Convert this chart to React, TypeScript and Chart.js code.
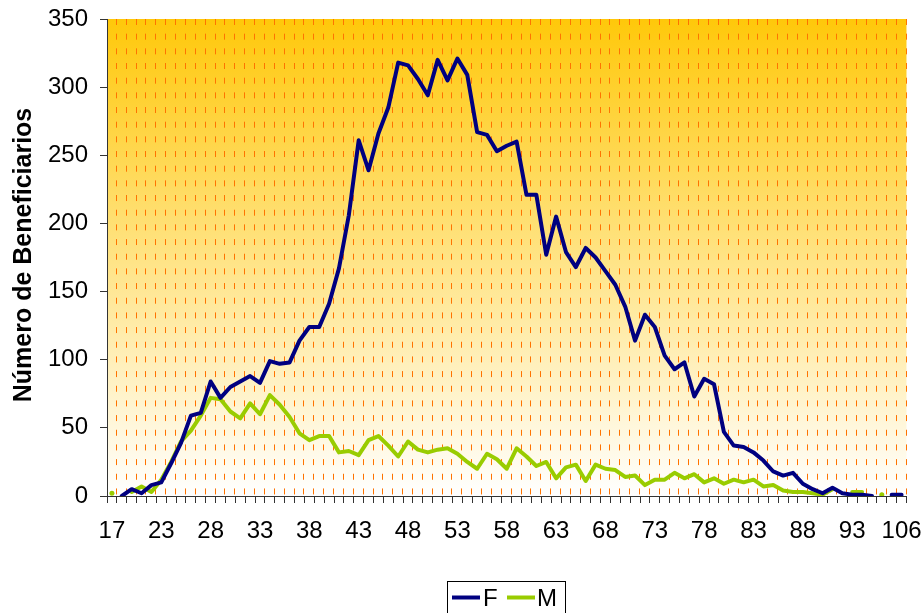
import React, { useEffect, useRef } from 'react';
import { Chart, registerables } from 'chart.js';

Chart.register(...registerables);

const ages: string[] = [
  '17', '19', '20', '21', '22',
  '23', '24', '25', '26', '27', '28', '29', '30', '31', '32',
  '33', '34', '35', '36', '37', '38', '39', '40', '41', '42',
  '43', '44', '45', '46', '47', '48', '49', '50', '51', '52',
  '53', '54', '55', '56', '57', '58', '59', '60', '61', '62',
  '63', '64', '65', '66', '67', '68', '69', '70', '71', '72',
  '73', '74', '75', '76', '77', '78', '79', '80', '81', '82',
  '83', '84', '85', '86', '87', '88', '89', '90', '91', '92',
  '93', '94', '95', '96', '98', '106',
];

const femenino: (number | null)[] = [
  null, 0, 5, 2, 8,
  10, 24, 39, 59, 61, 84, 72, 80, 84, 88,
  83, 99, 97, 98, 114, 124, 124, 141, 167, 206,
  261, 239, 266, 285, 318, 316, 306, 294, 320, 305,
  321, 309, 267, 265, 253, 257, 260, 221, 221, 177,
  205, 179, 168, 182, 175, 165, 155, 139, 114, 133,
  124, 103, 93, 98, 73, 86, 82, 47, 37, 36,
  32, 26, 18, 15, 17, 9, 5, 2, 6, 2,
  1, 1, 0, null, 1, 1,
];

const masculino: (number | null)[] = [
  2, null, 3, 7, 3,
  12, 25, 40, 48, 59, 72, 71, 62, 57, 68,
  60, 74, 67, 58, 46, 41, 44, 44, 32, 33,
  30, 41, 44, 37, 29, 40, 34, 32, 34, 35,
  31, 25, 20, 31, 27, 20, 35, 29, 22, 25,
  13, 21, 23, 11, 23, 20, 19, 14, 15, 8,
  12, 12, 17, 13, 16, 10, 13, 9, 12, 10,
  12, 7, 8, 4, 3, 3, 2, 1, 5, null,
  3, 3, null, 1, null, null,
];

const seriesNames = ['F', 'M'];
const yAxisTitle = 'Número de Beneficiarios';
const yMin = 0;
const yMax = 350;
const yStep = 50;
const labelEvery = 5;

const FONT = "'Liberation Sans', Arial, Helvetica, sans-serif";
const F_COLOR = '#000080';
const M_COLOR = '#99CC00';
const AXIS_COLOR = '#333333';

const isolatedRadius = (arr: (number | null)[]) => (ctx: any) => {
  const i = ctx.dataIndex;
  const prev = i > 0 ? arr[i - 1] : null;
  const next = i < arr.length - 1 ? arr[i + 1] : null;
  return arr[i] != null && prev == null && next == null ? 2.5 : 0;
};

const decorPlugin = {
  id: 'decor',
  beforeDraw(chart: any) {
    const { ctx, chartArea: a } = chart;
    const g = ctx.createLinearGradient(0, a.top, 0, a.bottom);
    g.addColorStop(0, '#FFC80A');
    g.addColorStop(1, '#FFFFFF');
    ctx.save();
    ctx.fillStyle = g;
    ctx.fillRect(a.left, a.top, a.right - a.left, a.bottom - a.top);
    const n = ages.length;
    const w = (a.right - a.left) / n;
    const period = 14.67;
    const dash = 6;
    ctx.strokeStyle = '#FF7300';
    ctx.lineWidth = 1;
    ctx.beginPath();
    for (let k = 1; k <= n; k++) {
      const x = Math.round(a.left + k * w) - 0.5;
      for (let y = a.top; y + 1 < a.bottom; y += period) {
        ctx.moveTo(x, y);
        ctx.lineTo(x, Math.min(y + dash, a.bottom - 1));
      }
    }
    ctx.stroke();
    ctx.restore();
  },
  afterDraw(chart: any) {
    const { ctx } = chart;
    ctx.save();
    ctx.fillStyle = '#000';
    ctx.font = `bold 25px ${FONT}`;
    ctx.textAlign = 'center';
    ctx.textBaseline = 'middle';
    ctx.translate(24, 255);
    ctx.rotate(-Math.PI / 2);
    ctx.fillText(yAxisTitle, 0, 0);
    ctx.restore();

    ctx.save();
    ctx.strokeStyle = '#000';
    ctx.lineWidth = 1;
    ctx.strokeRect(447.5, 581.5, 118, 40);
    ctx.lineWidth = 4;
    ctx.lineCap = 'butt';
    ctx.strokeStyle = F_COLOR;
    ctx.beginPath();
    ctx.moveTo(452, 597.5);
    ctx.lineTo(480, 597.5);
    ctx.stroke();
    ctx.strokeStyle = M_COLOR;
    ctx.beginPath();
    ctx.moveTo(507, 597.5);
    ctx.lineTo(535, 597.5);
    ctx.stroke();
    ctx.fillStyle = '#000';
    ctx.font = `24px ${FONT}`;
    ctx.textAlign = 'left';
    ctx.textBaseline = 'middle';
    ctx.fillText(seriesNames[0], 483, 599);
    ctx.fillText(seriesNames[1], 537, 599);
    ctx.restore();
  },
};

export default function App() {
  const ref = useRef<HTMLCanvasElement | null>(null);

  useEffect(() => {
    document.body.style.margin = '0';
    const canvas = ref.current;
    if (!canvas) return;
    const chart = new Chart(canvas, {
      type: 'line',
      data: {
        labels: ages,
        datasets: [
          {
            label: seriesNames[0],
            data: femenino,
            borderColor: F_COLOR,
            backgroundColor: F_COLOR,
            borderWidth: 4,
            pointRadius: isolatedRadius(femenino),
            pointBorderWidth: 0,
            borderJoinStyle: 'round',
            borderCapStyle: 'round',
            spanGaps: false,
            tension: 0,
          },
          {
            label: seriesNames[1],
            data: masculino,
            borderColor: M_COLOR,
            backgroundColor: M_COLOR,
            borderWidth: 4,
            pointRadius: isolatedRadius(masculino),
            pointBorderWidth: 0,
            borderJoinStyle: 'round',
            borderCapStyle: 'round',
            spanGaps: false,
            tension: 0,
          },
        ],
      },
      options: {
        animation: false,
        responsive: false,
        devicePixelRatio: 1,
        layout: { padding: { top: 19, right: 17.5, left: 0, bottom: 0 } },
        plugins: {
          legend: { display: false },
          tooltip: { enabled: false },
          title: { display: false },
        },
        scales: {
          x: {
            type: 'category',
            offset: true,
            grid: {
              drawOnChartArea: false,
              drawTicks: true,
              tickLength: 7,
              color: AXIS_COLOR,
              tickColor: AXIS_COLOR,
              offset: true,
            },
            border: { display: true, color: AXIS_COLOR, width: 1 },
            ticks: {
              autoSkip: false,
              maxRotation: 0,
              minRotation: 0,
              color: '#000',
              padding: 0,
              font: { family: FONT, size: 24, lineHeight: 2.375 },
              callback: (_v: any, idx: number) => (idx % labelEvery === 0 ? ages[idx] : ''),
            },
            afterFit: (s: any) => {
              s.height = 117;
            },
          },
          y: {
            min: yMin,
            max: yMax,
            grid: {
              drawOnChartArea: false,
              drawTicks: true,
              tickLength: 7,
              color: AXIS_COLOR,
              tickColor: AXIS_COLOR,
            },
            border: { display: true, color: AXIS_COLOR, width: 1 },
            ticks: {
              stepSize: yStep,
              color: '#000',
              padding: 12,
              font: { family: FONT, size: 24, lineHeight: 0.58 },
            },
            afterFit: (s: any) => {
              s.width = 107;
            },
          },
        },
      },
      plugins: [decorPlugin],
    });
    return () => chart.destroy();
  }, []);

  return (
    <div style={{ width: 924, height: 613, position: 'relative' }}>
      <canvas ref={ref} width={924} height={613} style={{ display: 'block' }} />
    </div>
  );
}
